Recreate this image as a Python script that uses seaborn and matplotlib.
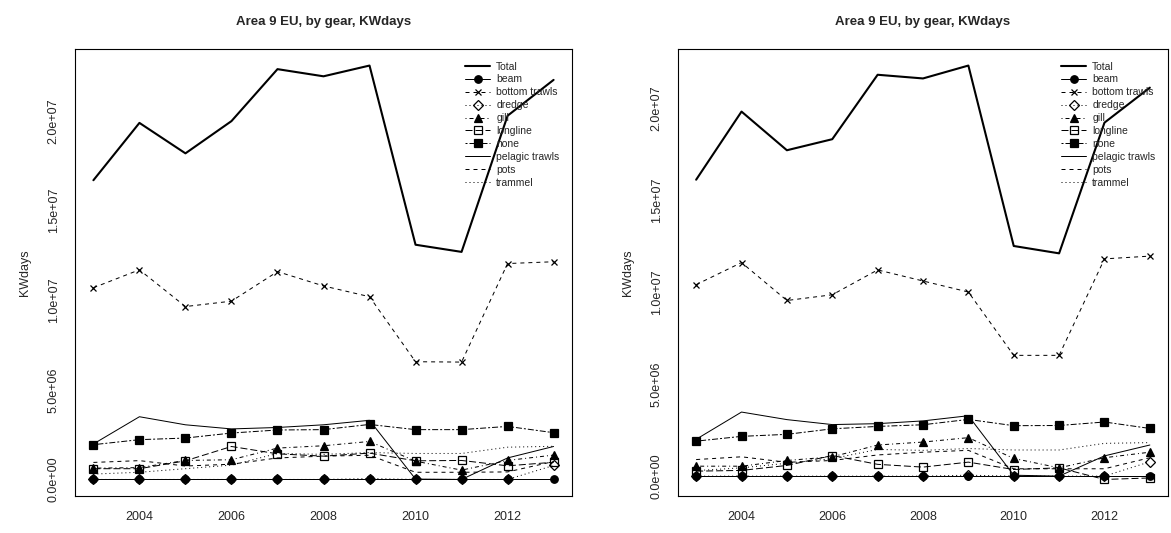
import numpy as np
import seaborn as sns
import matplotlib
matplotlib.use("Agg")
from matplotlib import pyplot as plt
from matplotlib.ticker import FuncFormatter

# values in millions of KWdays, years 2003-2013
years = list(range(2003, 2014))
gears = ["Total", "beam", "bottom trawls", "dredge", "gill", "longline", "none",
         "pelagic trawls", "pots", "trammel"]

# left panel
left_total = [16.7, 19.9, 18.2, 20.0, 22.9, 22.5, 23.1, 13.1, 12.7, 20.3, 22.3]
left_beam = [0, 0, 0, 0, 0, 0, 0, 0, 0, 0, 0]
left_bottom_trawls = [10.7, 11.7, 9.65, 9.95, 11.6, 10.8, 10.2, 6.57, 6.55, 12.05, 12.15]
left_dredge = [0, 0, 0, 0, 0, 0, 0.05, 0, 0, 0, 0.78]
left_gill = [0.63, 0.66, 1.06, 1.1, 1.75, 1.88, 2.12, 1.02, 0.52, 1.06, 1.36]
left_longline = [0.6, 0.6, 1.04, 1.84, 1.43, 1.3, 1.47, 1.04, 1.06, 0.76, 0.96]
left_none = [1.94, 2.22, 2.31, 2.59, 2.76, 2.78, 3.07, 2.78, 2.78, 2.96, 2.61]
left_pelagic = [1.98, 3.5, 3.05, 2.82, 2.9, 3.05, 3.3, 0.02, 0.0, 1.2, 1.84]
left_pots = [0.95, 1.05, 0.75, 0.85, 1.2, 1.3, 1.35, 0.4, 0.4, 0.42, 1.0]
left_trammel = [0.3, 0.4, 0.6, 0.8, 1.45, 1.4, 1.5, 1.45, 1.45, 1.8, 1.85]

# right panel
right_total = [16.1, 19.8, 17.7, 18.3, 21.8, 21.6, 22.3, 12.5, 12.1, 19.2, 21.1]
right_beam = [0, 0, 0, 0, 0, 0, 0, 0, 0, 0, 0]
right_bottom_trawls = [10.4, 11.6, 9.54, 9.85, 11.2, 10.6, 10.0, 6.56, 6.56, 11.8, 11.95]
right_dredge = [0, 0, 0, 0, 0, 0, 0.05, 0, 0, 0, 0.78]
right_gill = [0.54, 0.54, 0.85, 1.05, 1.69, 1.85, 2.09, 0.96, 0.45, 1.0, 1.3]
right_longline = [0.27, 0.31, 0.58, 1.12, 0.64, 0.49, 0.76, 0.36, 0.45, -0.18, -0.1]
right_none = [1.9, 2.16, 2.27, 2.57, 2.7, 2.79, 3.08, 2.74, 2.75, 2.94, 2.59]
right_pelagic = [2.0, 3.48, 3.07, 2.8, 2.85, 3.0, 3.28, 0.05, 0.0, 1.1, 1.69]
right_pots = [0.9, 1.05, 0.75, 0.85, 1.15, 1.3, 1.4, 0.4, 0.4, 0.4, 1.0]
right_trammel = [0.3, 0.45, 0.7, 0.95, 1.45, 1.4, 1.5, 1.42, 1.42, 1.78, 1.82]

left_series = [left_total, left_beam, left_bottom_trawls, left_dredge, left_gill,
               left_longline, left_none, left_pelagic, left_pots, left_trammel]
right_series = [right_total, right_beam, right_bottom_trawls, right_dredge, right_gill,
                right_longline, right_none, right_pelagic, right_pots, right_trammel]

# R-like line types (lty 1..6) and plotting symbols
lty = {1: "-", 2: (0, (4, 4)), 3: (0, (1, 3)), 4: (0, (1, 3, 4, 3)),
       5: (0, (7, 3)), 6: (0, (2, 2, 6, 2))}
styles = [
    dict(lw=1.5, ls="-", marker=None),
    dict(lw=0.72, ls=lty[1], marker="o", ms=5.4, mfc="black"),
    dict(lw=0.72, ls=lty[2], marker="x", ms=5.0, mfc="black"),
    dict(lw=0.72, ls=lty[3], marker="D", ms=5.2, mfc="none"),
    dict(lw=0.72, ls=lty[4], marker="^", ms=6.4, mfc="black"),
    dict(lw=0.72, ls=lty[5], marker="s", ms=5.8, mfc="none"),
    dict(lw=0.72, ls=lty[6], marker="s", ms=6.0, mfc="black"),
    dict(lw=0.72, ls=lty[1], marker=None),
    dict(lw=0.72, ls=lty[2], marker=None),
    dict(lw=0.72, ls=lty[3], marker=None),
]

sns.set_style("white")
plt.rcParams["font.family"] = ["Liberation Sans", "DejaVu Sans"]

W, H = 1171, 533
fig = plt.figure(figsize=(W / 100, H / 100), dpi=100)

# axes boxes in pixels: left, top, right, bottom
boxes = [(75, 49, 572, 496), (678, 49, 1168, 496)]


def draw_panel(ax, series):
    for name, vals, st in zip(gears, series, styles):
        y = np.array(vals) * 1e6
        sns.lineplot(x=years, y=y, ax=ax, color="black", linestyle=st["ls"],
                     linewidth=st["lw"], marker=st["marker"],
                     markersize=st.get("ms", 0), markerfacecolor=st.get("mfc", "black"),
                     markeredgecolor="black", markeredgewidth=0.9, label=name)
    allv = np.concatenate([np.array(v) for v in series]) * 1e6
    lo, hi = allv.min(), allv.max()
    pad = 0.04 * (hi - lo)
    ax.set_ylim(lo - pad, hi + pad)
    ax.set_xlim(years[0] - 0.4, years[-1] + 0.4)
    ax.set_xticks([2004, 2006, 2008, 2010, 2012])
    ax.set_yticks([0, 5e6, 1e7, 1.5e7, 2e7])
    ax.yaxis.set_major_formatter(FuncFormatter(lambda v, p: f"{v:.1e}"))
    ax.tick_params(axis="both", direction="out", length=5, width=0.8,
                   labelsize=9, color="black", pad=6)
    ax.tick_params(axis="y", labelrotation=90)
    for lab in ax.get_yticklabels():
        lab.set_va("center")
    for sp in ax.spines.values():
        sp.set_color("black")
        sp.set_linewidth(0.8)
    ax.set_xlabel("")
    ax.set_ylabel("KWdays", fontsize=9, labelpad=12)
    ax.set_title("Area 9 EU, by gear, KWdays", fontsize=9.5, fontweight="bold", pad=17)
    ax.legend(loc="upper right", frameon=False, fontsize=7.5, handlelength=2.4,
              handletextpad=0.6, labelspacing=0.28, borderaxespad=0.8,
              borderpad=0.4, numpoints=1)


for (l, t, r, b), series in zip(boxes, [left_series, right_series]):
    ax = fig.add_axes([l / W, 1 - b / H, (r - l) / W, (b - t) / H])
    draw_panel(ax, series)

fig.savefig("out.png", dpi=100)
